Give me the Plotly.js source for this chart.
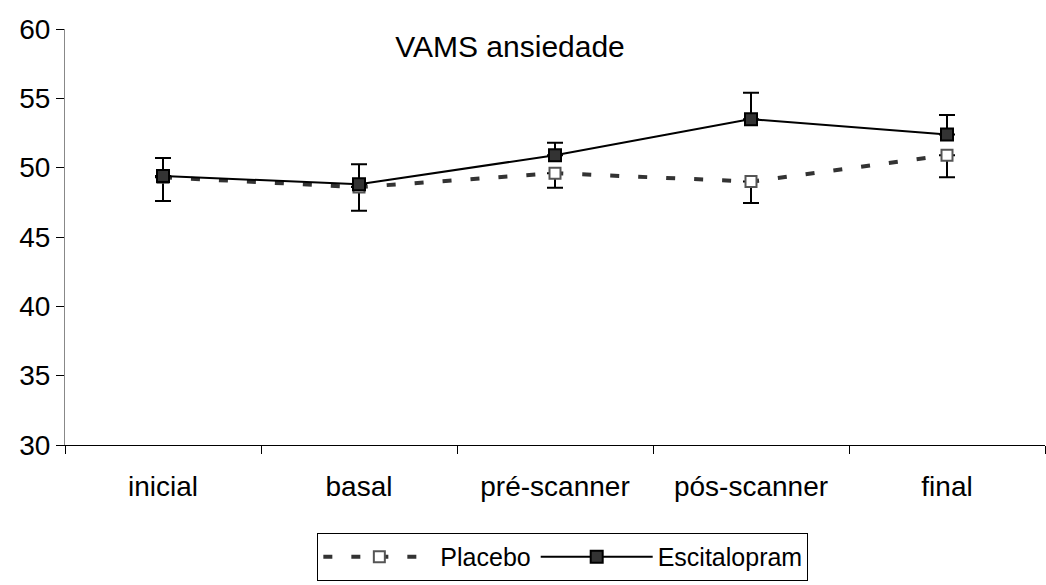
<!DOCTYPE html>
<html>
<head>
<meta charset="utf-8">
<script src="https://cdn.plot.ly/plotly-3.0.1.min.js"></script>
<style>html,body{margin:0;padding:0;background:#fff;}#chart{width:1046px;height:585px;}</style>
</head>
<body>
<div id="chart"></div>
<script>
const categories = ["inicial", "basal", "pré-scanner", "pós-scanner", "final"];
const placeboValues = [49.3, 48.6, 49.6, 49.0, 50.9];
const placeboErrMinus = [1.7, 1.7, 1.05, 1.55, 1.6];
const escitalopramValues = [49.4, 48.8, 50.9, 53.5, 52.4];
const escitalopramErrPlus = [1.3, 1.45, 0.9, 1.9, 1.4];
const yTicks = [30, 35, 40, 45, 50, 55, 60];

const zeros = categories.map(() => 0);

const traces = [
  {
    x: categories, y: placeboValues, name: "Placebo", type: "scatter", mode: "lines+markers",
    line: {color: "#333333", width: 4, dash: "9px,19px"},
    marker: {symbol: "square", size: 11, color: "#ffffff", line: {color: "#555555", width: 2}},
    error_y: {type: "data", symmetric: false, array: zeros, arrayminus: placeboErrMinus, color: "#000000", thickness: 2, width: 8}
  },
  {
    x: categories, y: escitalopramValues, name: "Escitalopram", type: "scatter", mode: "lines+markers",
    line: {color: "#000000", width: 2},
    marker: {symbol: "square", size: 12, color: "#333333", line: {color: "#000000", width: 2}},
    error_y: {type: "data", symmetric: false, array: escitalopramErrPlus, arrayminus: zeros, color: "#000000", thickness: 2, width: 8}
  }
];

const layout = {
  width: 1046, height: 585,
  margin: {l: 65, r: 1, t: 29, b: 140},
  paper_bgcolor: "#ffffff", plot_bgcolor: "#ffffff",
  font: {family: "Liberation Sans, Arial, sans-serif", size: 28, color: "#000000"},
  showlegend: true,
  title: {text: "VAMS ansiedade", font: {size: 30, color: "#000000"}, x: 0.4876, xref: "container", xanchor: "center", y: 0.92, yref: "container", yanchor: "middle"},
  xaxis: {
    type: "category", showgrid: false, zeroline: false,
    showline: true, linecolor: "#000000", linewidth: 1,
    ticks: "outside", tickson: "boundaries", ticklen: 8, tickcolor: "#000000",
    tickfont: {size: 28}, range: [-0.5, 4.5], ticklabelstandoff: 16
  },
  yaxis: {
    range: [30, 60], tickvals: yTicks, showgrid: false, zeroline: false,
    showline: true, linecolor: "#888888", linewidth: 1,
    ticks: "outside", ticklen: 8, tickcolor: "#000000", tickfont: {size: 28}
  },
  legend: {
    orientation: "h", x: 0.508, xanchor: "center", y: -0.269, yanchor: "middle",
    bordercolor: "#000000", borderwidth: 1, font: {size: 25}, itemwidth: 112,
    bgcolor: "#ffffff"
  }
};

Plotly.newPlot("chart", traces, layout, {displayModeBar: false, staticPlot: true});
</script>
</body>
</html>
